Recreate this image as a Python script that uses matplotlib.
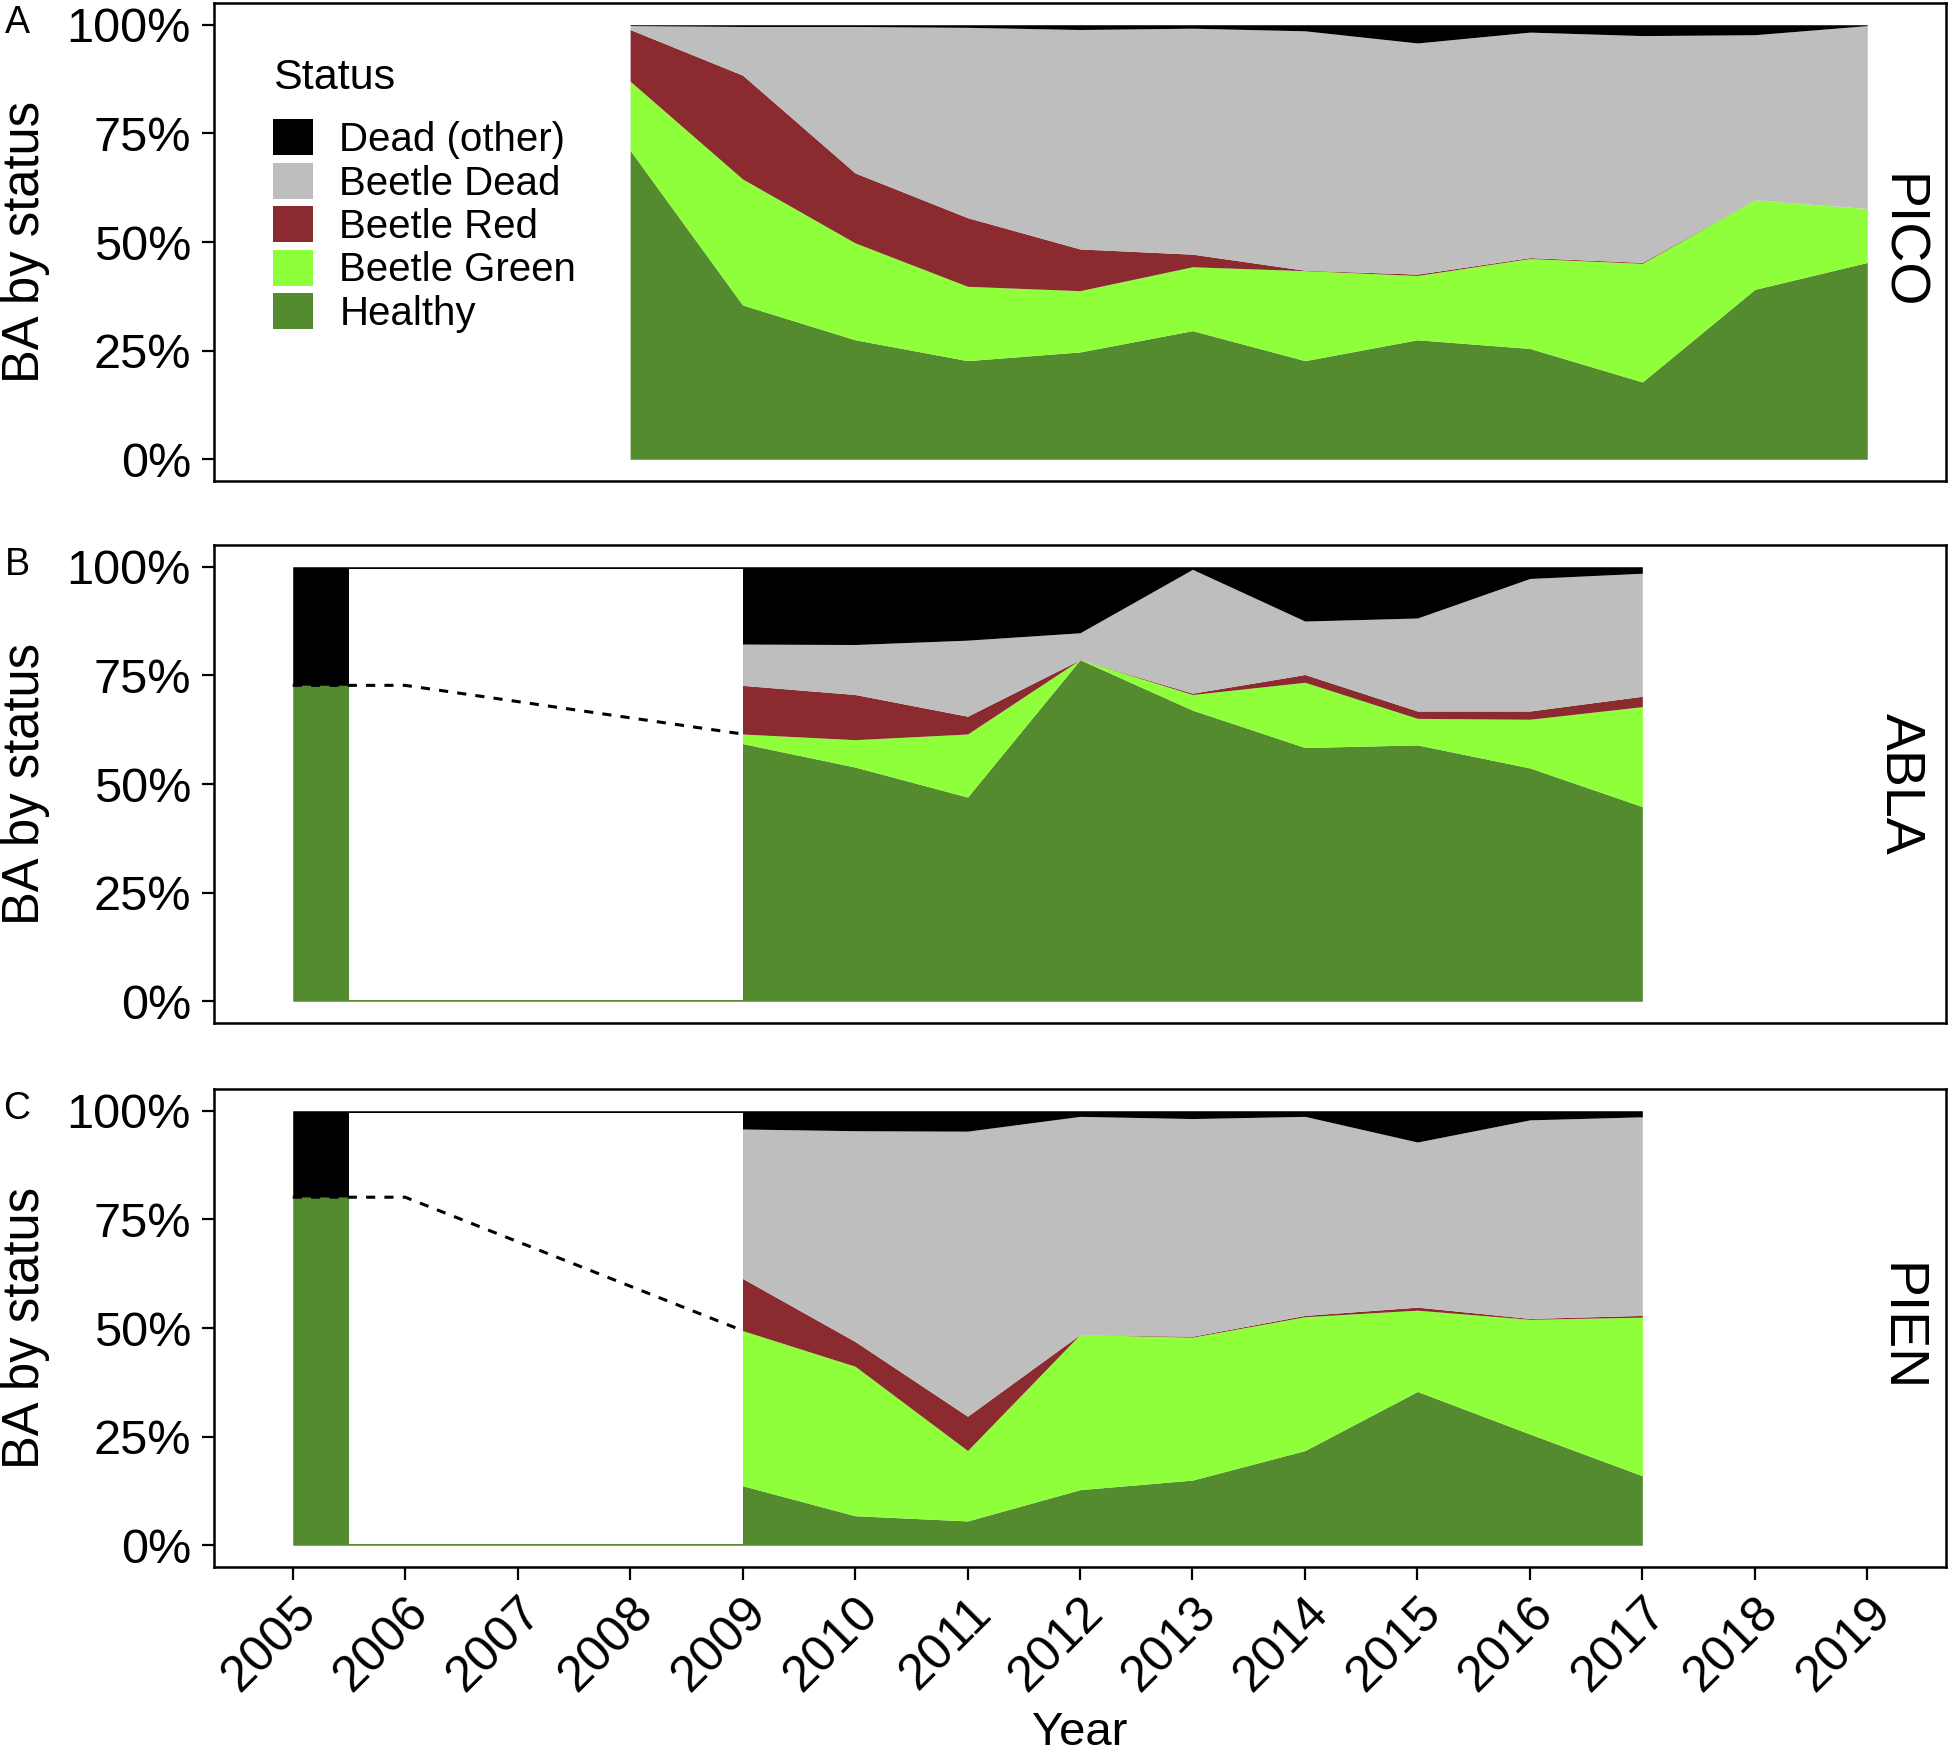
import matplotlib
matplotlib.use("Agg")
import matplotlib.pyplot as plt
from matplotlib.patches import Patch, Rectangle
import numpy as np

plt.rcParams['font.family'] = ['Liberation Sans', 'DejaVu Sans']

# ---------------- data (percent of basal area) ----------------
status_labels = ["Dead (other)", "Beetle Dead", "Beetle Red", "Beetle Green", "Healthy"]
status_colors = ["#000000", "#BEBEBE", "#8B2B2F", "#8FFF3B", "#548B2F"]

# PICO
pico_years   = [2008, 2009, 2010, 2011, 2012, 2013, 2014, 2015, 2016, 2017, 2018, 2019]
pico_healthy = [71.1, 35.5, 27.5, 22.7, 24.7, 29.6, 22.7, 27.5, 25.5, 17.8, 39.1, 45.3]
pico_green   = [15.9, 29.0, 22.3, 17.1, 14.1, 14.7, 20.7, 14.8, 20.7, 27.3, 20.6, 12.4]
pico_red     = [11.9, 23.9, 16.1, 15.8,  9.6,  2.9,  0.1,  0.3,  0.2,  0.2,  0.0,  0.0]
pico_dead    = [ 0.9, 11.2, 33.7, 43.8, 50.5, 52.0, 55.1, 53.2, 51.9, 52.2, 38.0, 42.1]
pico_other   = [ 0.2,  0.4,  0.4,  0.6,  1.1,  0.8,  1.4,  4.2,  1.7,  2.5,  2.3,  0.2]

# ABLA (2006 repeats the 2005 survey; 2006-2008 unsampled)
abla_years   = [2005, 2006, 2009, 2010, 2011, 2012, 2013, 2014, 2015, 2016, 2017]
abla_healthy = [72.7, 72.7, 59.3, 53.9, 47.0, 78.6, 67.0, 58.4, 59.0, 53.7, 44.8]
abla_green   = [ 0.0,  0.0,  2.2,  6.3, 14.5,  0.0,  3.6, 15.0,  6.1, 11.2, 23.0]
abla_red     = [ 0.0,  0.0, 11.2, 10.4,  4.1,  0.0,  0.3,  1.8,  1.7,  1.9,  2.4]
abla_dead    = [ 0.0,  0.0,  9.5, 11.5, 17.5,  6.2, 28.5, 12.3, 21.4, 30.5, 28.3]
abla_other   = [27.3, 27.3, 17.8, 17.9, 16.9, 15.2,  0.6, 12.5, 11.8,  2.7,  1.5]

# PIEN
pien_years   = [2005, 2006, 2009, 2010, 2011, 2012, 2013, 2014, 2015, 2016, 2017]
pien_healthy = [80.1, 80.1, 13.7,  6.8,  5.6, 12.8, 15.0, 21.8, 35.4, 25.6, 16.0]
pien_green   = [ 0.0,  0.0, 35.7, 34.4, 16.2, 35.7, 32.9, 30.8, 18.7, 26.4, 36.5]
pien_red     = [ 0.0,  0.0, 12.0,  5.7,  7.9,  0.0,  0.2,  0.3,  0.7,  0.2,  0.4]
pien_dead    = [ 0.0,  0.0, 34.4, 48.5, 65.6, 50.2, 50.1, 45.8, 38.0, 45.7, 45.7]
pien_other   = [19.9, 19.9,  4.2,  4.6,  4.7,  1.3,  1.8,  1.3,  7.2,  2.1,  1.4]

species = ["PICO", "ABLA", "PIEN"]
panel_letters = ["A", "B", "C"]
year_ticks = list(range(2005, 2020))
pct_ticks = [0, 0.25, 0.5, 0.75, 1.0]
pct_labels = ["0%", "25%", "50%", "75%", "100%"]

gap_start, gap_end = 2005.5, 2009   # unsampled years masked in ABLA / PIEN

panels = [
    (pico_years, [pico_healthy, pico_green, pico_red, pico_dead, pico_other], False),
    (abla_years, [abla_healthy, abla_green, abla_red, abla_dead, abla_other], True),
    (pien_years, [pien_healthy, pien_green, pien_red, pien_dead, pien_other], True),
]

# ---------------- figure ----------------
W, H = 1950, 1757
fig = plt.figure(figsize=(W / 100, H / 100), dpi=100)
left_px, right_px = 214, 1946
tops_px = [3, 545, 1089]
ph = 478

fill_colors = status_colors[::-1]  # healthy first (bottom)
axes = []
for i, (yrs, series, has_gap) in enumerate(panels):
    top = tops_px[i]
    ax = fig.add_axes([left_px / W, 1 - (top + ph) / H, (right_px - left_px) / W, ph / H])
    axes.append(ax)
    x = np.array(yrs, dtype=float)
    base = np.zeros_like(x)
    for s, col in zip(series, fill_colors):
        v = np.array(s) / 100.0
        ax.fill_between(x, base, base + v, color=col, lw=0, zorder=2)
        base = base + v
    if has_gap:
        ax.add_patch(Rectangle((gap_start, 0.004), gap_end - gap_start, 0.99,
                               facecolor="white", edgecolor="none", zorder=3))
        live = (np.array(series[0]) + np.array(series[1])) / 100.0
        ax.plot(x[:3], live[:3], color="black", ls=(0, (3, 3)), lw=2.2, zorder=4)
    ax.set_xlim(2004.3, 2019.7)
    ax.set_ylim(-0.05, 1.05)
    ax.set_yticks(pct_ticks)
    ax.set_yticklabels(pct_labels)
    ax.set_xticks(year_ticks)
    for sp in ax.spines.values():
        sp.set_linewidth(1.8)
        sp.set_color("black")
    ax.tick_params(axis="y", length=8.6, width=1.6, pad=8, labelsize=35)
    ax.tick_params(axis="x", length=9, width=1.6, pad=7, labelsize=36)
    ax.set_ylabel("BA by status", fontsize=36.5)
    ax.yaxis.set_label_coords(-0.0945, 0.5)
    ax.text(0.9734, 0.5, species[i], rotation=-90, transform=ax.transAxes,
            ha="center", va="center", fontsize=40)
    fig.text(17 / W, 1 - (top + 20) / H, panel_letters[i], ha="center", va="center", fontsize=27)
    if i < 2:
        ax.tick_params(axis="x", bottom=False, labelbottom=False)
    else:
        ax.set_xticklabels([str(y) for y in year_ticks], rotation=45,
                           ha="right", va="top", rotation_mode="anchor")
        ax.set_xlabel("Year", fontsize=34, va="baseline")
        ax.xaxis.set_label_coords(0.5, (top + ph - 1745) / ph)

# legend in panel A
handles = [Patch(facecolor=c, edgecolor="none") for c in status_colors]
leg = axes[0].legend(handles, status_labels, title="Status", loc="upper left",
                     bbox_to_anchor=(0.034, 0.884), frameon=False, fontsize=29,
                     title_fontsize=31, handlelength=1.0, handleheight=1.0,
                     handletextpad=0.65, labelspacing=0.09, borderpad=0,
                     borderaxespad=0, alignment="left")
leg._legend_box.sep = 15

fig.savefig("out.png", dpi=100)
